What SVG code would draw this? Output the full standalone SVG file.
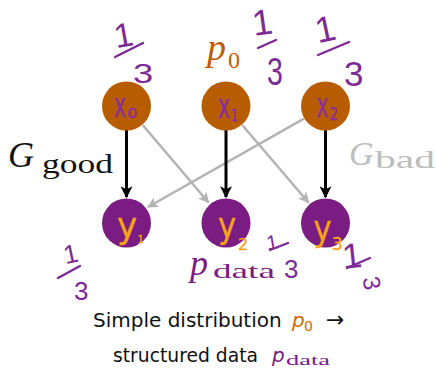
<svg xmlns="http://www.w3.org/2000/svg" width="436" height="369" viewBox="0 0 436 369">
<defs>
<style>
.xn{fill:#B85C00}
.yn{fill:#7A1C82}
.hw{font-family:"Liberation Sans",sans-serif;fill:#7D2A95}
.hwx{font-family:"DejaVu Sans",sans-serif;fill:#8A2DA0;stroke:#8A2DA0;stroke-width:0.3}
.hwo{font-family:"DejaVu Sans",sans-serif;fill:#F7A21B;stroke:#F7A21B;stroke-width:0.3}
.bar{stroke:#7D2A95;stroke-width:2.4;stroke-linecap:round;fill:none}
.serif{font-family:"Liberation Serif",serif}
.sans{font-family:"DejaVu Sans",sans-serif}
.good{stroke:#000;stroke-width:3;fill:none}
.bad{stroke:#B3B3B3;stroke-width:2.5;fill:none}
</style>
<marker id="ab" viewBox="0 0 10 10" refX="9" refY="5" markerWidth="12" markerHeight="12" markerUnits="userSpaceOnUse" orient="auto">
<path d="M0,0 L10,5 L0,10 L2.5,5 z" fill="#000"/>
</marker>
<marker id="ag" viewBox="0 0 10 10" refX="9" refY="5" markerWidth="11" markerHeight="11" markerUnits="userSpaceOnUse" orient="auto">
<path d="M0,0 L10,5 L0,10 L2.5,5 z" fill="#B3B3B3"/>
</marker>
</defs>
<rect width="436" height="369" fill="#fff"/>

<g id="connectors">
<line class="bad" x1="142.7" y1="125" x2="208.5" y2="202.5" marker-end="url(#ag)"/>
<line class="bad" x1="242.2" y1="125" x2="308.5" y2="202.5" marker-end="url(#ag)"/>
<line class="bad" x1="304" y1="118.7" x2="148" y2="207" marker-end="url(#ag)"/>
<line class="good" x1="126.5" y1="130" x2="126.5" y2="197" marker-end="url(#ab)"/>
<line class="good" x1="226" y1="130" x2="226" y2="197" marker-end="url(#ab)"/>
<line class="good" x1="325.5" y1="130" x2="325.5" y2="197" marker-end="url(#ab)"/>
</g>

<g id="x0">
<circle class="xn" cx="126.5" cy="106" r="24.5"/>
<text class="hwx" font-size="34" transform="translate(114 117) scale(0.6 1)">x</text>
<text class="hwx" font-size="18" transform="translate(127.5 118) scale(0.9 1)">o</text>
</g>
<g id="x1">
<circle class="xn" cx="226" cy="106" r="24.5"/>
<text class="hwx" font-size="34" transform="translate(218 118) scale(0.6 1)">x</text>
<text class="hwx" font-size="16" transform="translate(231 121) scale(0.7 1)">1</text>
</g>
<g id="x2">
<circle class="xn" cx="325.5" cy="106" r="24.5"/>
<text class="hwx" font-size="34" transform="translate(316.5 117) scale(0.6 1)">x</text>
<text class="hwx" font-size="17" transform="translate(329.5 120) scale(0.8 1)">2</text>
</g>
<g id="y1">
<circle class="yn" cx="126.5" cy="223" r="24.5"/>
<text class="hwo" font-size="36" transform="translate(117 238) scale(0.95 1)">y</text>
<text class="hwo" font-size="10" x="137.5" y="243">1</text>
</g>
<g id="y2">
<circle class="yn" cx="226" cy="223" r="24.5"/>
<text class="hwo" font-size="36" transform="translate(218 238) scale(0.85 1)">y</text>
<text class="hwo" font-size="16" x="238" y="250">2</text>
</g>
<g id="y3">
<circle class="yn" cx="325.5" cy="223" r="24.5"/>
<text class="hwo" font-size="36" transform="translate(313.5 241) scale(0.85 1)">y</text>
<text class="hwo" font-size="18" x="331.5" y="250">3</text>
</g>

<g id="label-p0">
<text class="serif" x="207" y="60" font-size="38" font-style="italic" fill="#BF5B04">p</text>
<text class="serif" x="228" y="68" font-size="24" fill="#BF5B04">0</text>
</g>
<g id="label-pdata">
<text class="serif" x="190" y="275" font-size="36" font-style="italic" fill="#7A1C82">p</text>
<text class="serif" x="213" y="278" font-size="22" fill="#7A1C82" textLength="62" lengthAdjust="spacingAndGlyphs">data</text>
</g>
<g id="label-good">
<text class="serif" x="8" y="167" font-size="36" font-style="italic" fill="#111">G</text>
<text class="serif" x="42" y="173" font-size="27" fill="#111" textLength="71" lengthAdjust="spacingAndGlyphs">good</text>
</g>
<g id="label-bad">
<text class="serif" x="349" y="165" font-size="34" font-style="italic" fill="#BDBDBD">G</text>
<text class="serif" x="375" y="168" font-size="26" fill="#BDBDBD" textLength="60" lengthAdjust="spacingAndGlyphs">bad</text>
</g>

<g id="fractions">
<text class="hw" x="114" y="47" font-size="34" transform="rotate(-10 122 35)">1</text>
<path class="bar" d="M115,57 L143,43"/>
<text class="hw" font-size="28" transform="translate(133 83) scale(1.3 1)">3</text>

<text class="hw" x="252" y="35" font-size="36" transform="rotate(-8 260 22)">1</text>
<path class="bar" d="M258,48 L276,40"/>
<text class="hw" font-size="38" transform="translate(267 85) scale(0.75 1)">3</text>

<text class="hw" x="315" y="42" font-size="36" transform="rotate(-12 323 28)">1</text>
<path class="bar" d="M318,55 L349,42"/>
<text class="hw" font-size="35" x="344" y="86">3</text>

<text class="hw" x="63" y="263" font-size="26" transform="rotate(-12 70 252)">1</text>
<path class="bar" d="M58,278 L80,266"/>
<text class="hw" x="74" y="300" font-size="26">3</text>

<text class="hw" x="266" y="249" font-size="20" transform="rotate(-10 272 240)">1</text>
<path class="bar" d="M270,250 L288,243"/>
<text class="hw" x="284" y="278" font-size="26">3</text>

<text class="hw" x="342" y="268" font-size="35" transform="rotate(-6 350 255)">1</text>
<path class="bar" d="M347,268 L370,258"/>
<text class="hw" x="366" y="296" font-size="24" transform="rotate(80 375 285)">3</text>
</g>

<g id="caption">
<text class="sans" x="93" y="327" font-size="20" fill="#111">Simple distribution</text>
<text class="sans" x="292" y="327" font-size="20" font-style="italic" fill="#D06A00">p</text>
<text class="sans" x="304" y="331" font-size="14" fill="#D06A00">0</text>
<text class="sans" x="326" y="327" font-size="22" fill="#111">→</text>
<text class="sans" x="113" y="362" font-size="20" fill="#111" textLength="145" lengthAdjust="spacingAndGlyphs">structured data</text>
<text class="sans" x="272" y="362" font-size="20" font-style="italic" fill="#7A1C82">p</text>
<text class="serif" x="286" y="365" font-size="15" fill="#7A1C82" textLength="44" lengthAdjust="spacingAndGlyphs">data</text>
</g>
</svg>
